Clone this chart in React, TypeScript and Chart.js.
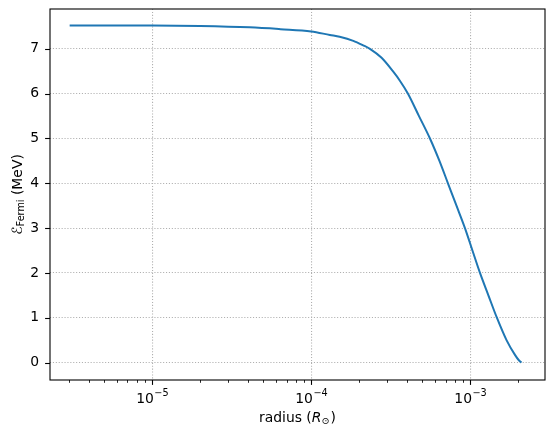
import React, { useEffect, useRef } from 'react';
import { Chart, registerables } from 'chart.js';
Chart.register(...registerables);

// data (radius in solar radii, Fermi energy in MeV)
const radius = [3.03e-6, 1.0e-5, 2.0e-5, 4.1e-5, 6.4e-5, 1.0e-4, 1.31e-4, 1.51e-4, 1.84e-4, 2.12e-4, 2.34e-4, 2.77e-4, 3.28e-4, 3.61e-4, 4.06e-4, 4.76e-4, 5.58e-4, 6.40e-4, 7.24e-4, 8.19e-4, 9.26e-4, 1.032e-3, 1.151e-3, 1.30e-3, 1.47e-3, 1.69e-3, 1.91e-3, 2.02e-3, 2.10e-3];
const energy = [7.52, 7.52, 7.51, 7.48, 7.44, 7.39, 7.31, 7.27, 7.18, 7.08, 7.0, 6.80, 6.49, 6.29, 6.0, 5.5, 5.0, 4.5, 4.0, 3.5, 3.0, 2.5, 2.0, 1.5, 1.0, 0.50, 0.17, 0.05, 0.0];

const yTicks = [0, 1, 2, 3, 4, 5, 6, 7];
const xMajorTicks = [1e-5, 1e-4, 1e-3];
const xTickBase = '10';
const xTickExponents = ['\u22125', '\u22124', '\u22123'];
const xTitleParts = ['radius (', 'R', '\u2299', ')'];
const yTitleParts = ['\u2130', 'Fermi', ' (MeV)'];

const X_MIN = 2.28e-6;
const X_MAX = 2.95e-3;
const Y_MIN = -0.39;
const Y_MAX = 7.89;

const FONT = '"DejaVu Sans", sans-serif';
const FS = 13.9;
const SFS = 9.7;

export default function App() {
  const ref = useRef<HTMLCanvasElement>(null);

  useEffect(() => {
    const canvas = ref.current!;
    const decor = {
      id: 'decor',
      afterDraw(chart: any) {
        const ctx: CanvasRenderingContext2D = chart.ctx;
        const { left, right, top, bottom } = chart.chartArea;
        const xs = chart.scales.x;
        const ys = chart.scales.y;
        ctx.save();
        ctx.strokeStyle = '#000';
        ctx.fillStyle = '#000';

        // y tick marks
        ctx.lineWidth = 1.1;
        for (const v of yTicks) {
          const p = Math.round(ys.getPixelForValue(v)) + 0.5;
          ctx.beginPath();
          ctx.moveTo(left, p);
          ctx.lineTo(left - 4.9, p);
          ctx.stroke();
        }
        // x major tick marks
        for (const v of xMajorTicks) {
          const p = Math.round(xs.getPixelForValue(v)) + 0.5;
          ctx.beginPath();
          ctx.moveTo(p, bottom);
          ctx.lineTo(p, bottom + 4.9);
          ctx.stroke();
        }
        // x minor tick marks
        ctx.lineWidth = 0.85;
        for (let e = -7; e <= -2; e++) {
          for (let m = 2; m <= 9; m++) {
            const v = m * Math.pow(10, e);
            if (v < X_MIN || v > X_MAX) continue;
            const p = Math.round(xs.getPixelForValue(v)) + 0.5;
            ctx.beginPath();
            ctx.moveTo(p, bottom);
            ctx.lineTo(p, bottom + 2.8);
            ctx.stroke();
          }
        }

        // frame
        ctx.lineWidth = 1.1;
        ctx.strokeRect(Math.round(left), Math.round(top), Math.round(right - left), Math.round(bottom - top));

        // x tick labels
        ctx.textBaseline = 'alphabetic';
        ctx.textAlign = 'left';
        xMajorTicks.forEach((v, i) => {
          const p = xs.getPixelForValue(v);
          ctx.font = `${FS}px ${FONT}`;
          const w1 = ctx.measureText(xTickBase).width;
          ctx.font = `${SFS}px ${FONT}`;
          const w2 = ctx.measureText(xTickExponents[i]).width;
          const x0 = p - (w1 + w2) / 2;
          ctx.font = `${FS}px ${FONT}`;
          ctx.fillText(xTickBase, x0, bottom + 23);
          ctx.font = `${SFS}px ${FONT}`;
          ctx.fillText(xTickExponents[i], x0 + w1 + 0.5, bottom + 15.5);
        });

        // x title
        const fonts = [`${FS}px ${FONT}`, `italic ${FS}px ${FONT}`, `${SFS}px ${FONT}`, `${FS}px ${FONT}`];
        const widths = xTitleParts.map((t, i) => { ctx.font = fonts[i]; return ctx.measureText(t).width; });
        const total = widths.reduce((a, b) => a + b, 0) + 1;
        let x = (left + right) / 2 - total / 2;
        const base = bottom + 42;
        xTitleParts.forEach((t, i) => {
          ctx.font = fonts[i];
          ctx.fillText(t, x, i === 2 ? base + 2 : base);
          x += widths[i] + (i === 2 ? 1 : 0);
        });

        // y title (rotated)
        const yfonts = [`${FS}px ${FONT}`, `${SFS}px ${FONT}`, `${FS}px ${FONT}`];
        const yw = yTitleParts.map((t, i) => { ctx.font = yfonts[i]; return ctx.measureText(t).width; });
        const ytot = yw.reduce((a, b) => a + b, 0);
        ctx.translate(21.5, (top + bottom) / 2);
        ctx.rotate(-Math.PI / 2);
        let yx = -ytot / 2;
        yTitleParts.forEach((t, i) => {
          ctx.font = yfonts[i];
          ctx.fillText(t, yx, i === 1 ? 2.5 : 0);
          yx += yw[i];
        });
        ctx.restore();
      },
    };

    const zeroPad = (s: any) => {
      s.paddingTop = 0;
      s.paddingBottom = 0;
      s.paddingLeft = 0;
      s.paddingRight = 0;
    };

    const chart = new Chart(canvas, {
      type: 'line',
      data: {
        datasets: [
          {
            data: radius.map((r, i) => ({ x: r, y: energy[i] })),
            borderColor: '#1f77b4',
            borderWidth: 2,
            pointRadius: 0,
            cubicInterpolationMode: 'monotone',
            fill: false,
          },
        ],
      },
      options: {
        animation: false,
        responsive: false,
        events: [],
        layout: { padding: { left: 0, right: 9, top: 9, bottom: 0 } },
        plugins: { legend: { display: false }, tooltip: { enabled: false }, title: { display: false } },
        scales: {
          x: {
            type: 'logarithmic',
            min: X_MIN,
            max: X_MAX,
            afterBuildTicks: (s: any) => { s.ticks = xMajorTicks.map((v) => ({ value: v })); },
            afterFit: (s: any) => { s.height = 55; zeroPad(s); },
            ticks: { display: false },
            grid: { color: '#b0b0b0', lineWidth: 1.1, drawTicks: false },
            border: { display: false, dash: [1.1, 1.8] },
          },
          y: {
            type: 'linear',
            min: Y_MIN,
            max: Y_MAX,
            afterBuildTicks: (s: any) => { s.ticks = yTicks.map((v) => ({ value: v })); },
            afterFit: (s: any) => { s.width = 50; zeroPad(s); },
            ticks: {
              color: '#000',
              padding: 11,
              font: { family: 'DejaVu Sans', size: FS },
              callback: (v: any) => String(v),
            },
            grid: { color: '#b0b0b0', lineWidth: 1.1, drawTicks: false },
            border: { display: false, dash: [1.1, 1.8] },
          },
        },
      },
      plugins: [decor],
    });
    return () => chart.destroy();
  }, []);

  return (
    <div style={{ position: 'absolute', left: 0, top: 0, width: 554, height: 435, background: '#fff' }}>
      <canvas ref={ref} width={554} height={435} />
    </div>
  );
}
